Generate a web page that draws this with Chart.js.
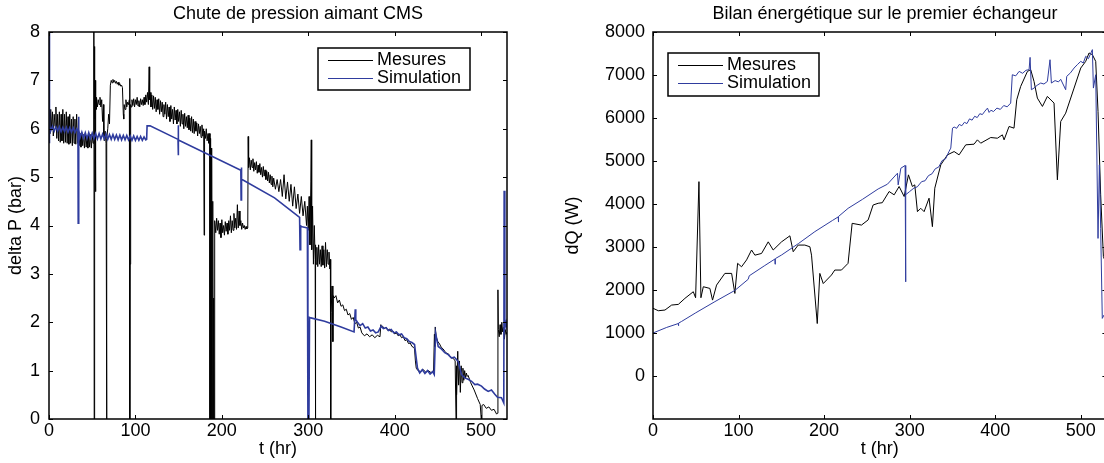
<!DOCTYPE html>
<html>
<head>
<meta charset="utf-8">
<title>Chute de pression / Bilan énergétique</title>
<script src="https://cdn.jsdelivr.net/npm/chart.js@4.4.0/dist/chart.umd.min.js"></script>
<style>
    html, body { margin: 0; padding: 0; background: #fff; overflow: hidden; }
    body { width: 1104px; height: 463px; position: relative; }
    canvas { position: absolute; top: 0; }
    #pressureChart { left: 0; }
    #energyChart { left: 560px; }
</style>
</head>
<body>
<canvas id="pressureChart" width="540" height="463"></canvas>
<canvas id="energyChart" width="560" height="463"></canvas>
<script>
// ticks
const timeTicks = [0, 100, 200, 300, 400, 500];
const pressureTicks = [0, 1, 2, 3, 4, 5, 6, 7, 8];
const powerTicks = [0, 1000, 2000, 3000, 4000, 5000, 6000, 7000, 8000];

const seriesLabels = ['Mesures', 'Simulation'];

// Chute de pression aimant CMS - mesures (t en hr, delta P en bar)
const pMesTime = [
    0, 1, 2, 3, 4, 5, 6, 7, 8, 9, 10, 11, 12, 13, 14, 15, 16,
    17, 18, 19, 20, 21, 22, 23, 24, 25, 26, 27, 28, 29, 30, 31, 32, 33,
    34, 35, 36, 37, 38, 39, 40, 41, 42, 43, 44, 45, 46, 47, 48, 49, 50, 51,
    51.8, 52, 52.3, 52.6, 53, 53.4, 53.8, 54.2, 54.6, 55, 56, 57, 58, 59, 60, 61, 62, 63,
    63.5, 64, 65, 66, 66.5, 66.8, 67.1, 68, 69, 70, 71, 72,
    73, 74, 75, 76, 77, 78, 79, 80, 81, 82, 83, 84, 85, 86, 86.5, 87, 88, 89, 90, 91, 92, 93,
    93.4, 93.6, 93.8, 94.5, 95, 96, 97, 98, 99, 100, 101, 102, 103, 104, 105, 106, 107, 108, 109, 110, 111, 112,
    113, 114, 115, 115.9, 116.5, 117, 118, 119, 120, 121, 122, 123, 124, 125, 126, 127, 128, 129, 130, 131, 132, 133, 134, 135,
    136, 137, 138, 139, 140, 141, 142, 143, 144, 145, 146, 147, 148, 149, 150, 151, 152, 153, 154, 155, 156, 157, 158, 159, 160,
    161, 162, 163, 164, 165, 166, 167, 168, 169, 170, 171, 172, 173, 174, 175, 176, 177, 178, 179, 179.5, 180, 181, 182, 183, 184, 185,
    186, 186.3, 186.6, 187, 187.5, 188, 188.5, 189, 189.5, 190, 190.5, 191, 191.5, 192, 193, 194, 195,
    196, 197, 198, 199, 200, 201, 202, 203, 204, 205, 206, 207, 208, 209, 210, 211, 212, 213, 214, 215, 216, 217, 218, 219, 220, 221, 222, 223, 224, 225, 226, 227, 228, 229, 230,
    230.5, 231, 232, 233, 234, 235, 236, 237, 238, 239, 240, 241, 242, 243, 244, 245, 246, 247, 248, 249, 250,
    251, 252, 253, 254, 255, 256, 257, 258, 259, 260, 262, 264, 266, 268, 270, 272, 274, 276, 278, 280,
    282, 284, 286, 288, 290, 292, 294, 296, 298, 299, 300, 301, 302, 303, 303.5, 304, 305, 306, 307, 308, 308.3,
    308.6, 309, 310, 311, 312, 313, 314, 315, 316, 317, 318, 319, 320, 321, 322, 323, 324, 325, 325.6, 326,
    326.5, 327.5, 328.5, 329, 330, 332, 334, 336, 338, 340, 342, 344, 346, 348, 350, 352, 354, 356, 358, 360,
    362, 365, 368, 371, 374, 377, 380, 383, 384, 384.5,
    386, 388, 390, 392, 394, 396, 398, 400, 402, 404, 406, 408, 410, 412, 414, 416, 418, 420, 422, 423, 424,
    425, 427, 430, 433, 436, 439, 442, 445, 446, 446.5, 447, 448, 450, 452, 454, 456, 458, 460, 462, 464, 466, 468, 470,
    471, 471.3, 472, 473, 474, 475, 476, 477, 478, 479, 480, 481, 482, 483, 484, 485,
    488, 492, 496, 499, 500.2, 501, 503, 506, 509, 512, 515, 518, 519,
    519.5, 520, 521, 522, 523, 524, 525, 526, 527, 528, 529, 530
];
const pMesValues = [
    6.3, 5.9, 6.4, 6.0, 6.35, 5.85, 6.3, 6.05, 6.45, 5.8, 6.3, 5.75, 6.35, 5.72, 6.3, 5.75, 6.4,
    5.7, 6.3, 5.72, 6.35, 5.7, 6.25, 5.68, 6.3, 5.7, 6.2, 5.65, 6.25, 5.7, 6.2, 5.68, 6.3, 5.7,
    5.95, 5.65, 5.9, 5.62, 5.92, 5.65, 5.88, 5.6, 5.9, 5.62, 5.85, 5.6, 5.9, 5.62, 5.88, 5.6, 5.85, 5.7,
    6.0, 9, 0, 7.7, 6.2, 7.0, 4.7, 6.6, 6.4, 6.65, 6.45, 6.6, 6.5, 6.65, 6.45, 6.6, 6.15, 6.5,
    5.85, 5.75, 5.95, 5.7, 5.8, 0, 5.8, 6.0, 6.3, 6.1, 6.9, 7.0,
    6.95, 7.02, 6.96, 7.0, 6.94, 6.98, 6.92, 6.96, 6.9, 6.93, 6.88, 6.9, 6.85, 6.3, 6.2, 6.5, 6.4, 6.6, 6.45, 6.55, 6.5, 6.6,
    7.04, 0, 3.2, 6.5, 6.45, 6.6, 6.48, 6.62, 6.45, 6.6, 6.5, 6.65, 6.47, 6.58, 6.45, 6.62, 6.5, 6.6, 6.48, 6.65, 6.5, 6.7,
    6.55, 6.75, 6.5, 7.28, 6.6, 6.75, 6.45, 6.7, 6.4, 6.68, 6.42, 6.65, 6.35, 6.6, 6.4, 6.62, 6.3, 6.58, 6.35, 6.55, 6.25, 6.5, 6.3, 6.55,
    6.2, 6.5, 6.25, 6.45, 6.15, 6.48, 6.2, 6.4, 6.1, 6.45, 6.18, 6.38, 6.1, 6.4, 6.15, 6.35, 6.05, 6.38, 6.1, 6.3, 6.0, 6.32, 6.05, 6.25, 6.02,
    6.28, 5.98, 6.22, 5.95, 6.25, 5.92, 6.2, 5.9, 6.15, 5.95, 6.12, 5.85, 6.1, 5.9, 6.05, 5.82, 6.08, 5.85, 6.0, 3.8, 5.95, 5.8, 6.0, 5.75, 5.9, 5.7,
    5.9, 0, 5.8, 0, 5.6, 0, 5.4, 0, 4.5, 0, 2.5, 0, 3.9, 4.1, 3.85, 4.15, 3.9,
    4.1, 3.82, 4.05, 3.75, 4.12, 3.85, 4.0, 3.8, 4.08, 3.88, 4.05, 3.82, 4.1, 3.9, 4.2, 3.85, 4.1, 3.9, 4.25, 3.95, 4.15, 3.92, 4.43, 3.95, 4.3, 4.0, 4.1, 3.92, 4.05, 3.95, 4.0, 3.92, 3.98, 3.93, 3.95,
    5.84, 5.2, 5.4, 5.15, 5.35, 5.2, 5.38, 5.12, 5.3, 5.15, 5.32, 5.08, 5.25, 5.1, 5.28, 5.05, 5.2, 5.0, 5.22, 5.02, 5.15,
    4.95, 5.12, 4.92, 5.1, 4.88, 5.05, 4.85, 5.02, 4.8, 4.98, 4.75, 4.95, 4.7, 4.95, 4.6, 5.05, 4.55, 4.9, 4.5, 4.85,
    4.4, 4.8, 4.35, 4.65, 4.25, 4.6, 4.2, 4.5, 4.0, 4.4, 3.9, 4.6, 3.6, 4.9, 5.77, 3.5, 4.4, 3.2, 4.0, 3.3, 0,
    3.6, 3.2, 3.55, 3.15, 3.6, 3.2, 3.5, 3.15, 3.58, 3.18, 3.5, 3.12, 3.65, 3.15, 3.5, 3.2, 3.45, 3.1, 3.3, 0,
    2.2, 2.75, 1.6, 2.55, 2.5, 2.55, 2.4, 2.46, 2.33, 2.36, 2.24, 2.27, 2.15, 2.18, 2.06, 2.1, 1.97, 2.0, 1.88, 1.9,
    1.78, 1.72, 1.76, 1.7, 1.74, 1.68, 1.73, 1.7, 1.95, 1.9,
    1.92, 1.86, 1.9, 1.83, 1.86, 1.8, 1.82, 1.76, 1.78, 1.72, 1.74, 1.68, 1.7, 1.62, 1.64, 1.56, 1.57, 1.5, 1.48, 1.45, 1.2,
    1.05, 1.0, 0.98, 1.02, 0.97, 1.0, 0.96, 0.98, 1.75, 1.5, 1.9, 1.7, 1.6, 1.55, 1.48, 1.45, 1.4, 1.36, 1.35, 1.3, 1.27, 1.25, 1.2,
    0, 1.1, 0.5, 1.4, 0.7, 1.2, 0.55, 1.1, 0.75, 1.05, 0.8, 1.0, 0.85, 0.95, 0.88, 0.9,
    0.75, 0.6, 0.42, 0.3, 0, 0.28, 0.3, 0.22, 0.25, 0.18, 0.2, 0.1, 0.12,
    2.67, 1.85, 1.7, 1.95, 1.75, 2.0, 1.8, 1.9, 1.65, 1.85, 1.75, 1.8
];

// Chute de pression aimant CMS - simulation
const pSimTime = [
    0, 0.3, 0.8, 2, 4, 6, 8, 10, 12, 14, 16, 18, 20, 22, 24, 26, 28, 30, 32, 33.5, 33.8, 34.2, 34.6, 35,
    36, 38, 40, 42, 44, 46, 48, 50, 52, 54, 56, 58, 60, 62, 64, 66, 68, 70, 72, 74,
    76, 78, 80, 82, 84, 86, 88, 90, 92, 94, 96, 98, 100, 102, 104, 106, 108, 110, 112, 113,
    113.5, 117, 149.3, 149.5, 149.7, 149.9, 222, 222.3, 222.6, 223, 224.5,
    261, 290, 290.5, 291, 291.5, 299, 299.6, 300.8, 301.5, 303, 318.9, 338, 353, 354.4, 355,
    357, 360, 363, 366, 369, 372, 375, 378, 381, 384.4, 387, 390, 393, 396, 399, 402, 405, 408, 411, 414, 417, 420, 423,
    426.4, 429, 432, 435, 438, 441, 444, 445.8, 447.3, 450.4, 454, 458, 462, 465.8, 469, 473.5, 477.4, 481.2, 485, 489,
    492.8, 496, 500.5, 504, 508.2, 512, 515.9, 519, 523.6, 526.3, 526.7, 527.5, 529, 531
];
const pSimValues = [
    8.5, 5.7, 6.05, 5.96, 6.05, 5.95, 6.04, 5.95, 6.04, 5.94, 6.03, 5.94, 6.03, 5.93, 6.02, 5.93, 6.02, 5.92, 6.0, 5.95, 4.05, 6.25, 5.85, 5.92,
    5.82, 5.93, 5.81, 5.92, 5.8, 5.92, 5.8, 5.91, 5.8, 5.9, 5.79, 5.9, 5.79, 5.89, 5.79, 5.89, 5.78, 5.88, 5.78, 5.88,
    5.78, 5.87, 5.77, 5.87, 5.77, 5.86, 5.77, 5.86, 5.77, 5.85, 5.76, 5.85, 5.76, 5.84, 5.76, 5.84, 5.76, 5.83, 5.77, 5.78,
    6.06, 6.06, 5.78, 6.07, 5.45, 5.77, 5.14, 4.53, 5.2, 4.95, 4.94,
    4.57, 4.17, 3.5, 4.01, 3.98, 3.95, 0, 0, 2.1, 2.09, 2.02, 1.9, 1.8, 2.27, 2.05,
    2.0, 1.93, 1.97, 1.88, 1.9, 1.82, 1.84, 1.78, 1.8, 1.92, 1.87, 1.89, 1.83, 1.85, 1.78, 1.8, 1.74, 1.76, 1.68, 1.66, 1.6, 1.58, 1.54,
    1.05, 0.95, 1.02, 0.94, 1.0, 0.93, 0.98, 0.92, 1.78, 1.5, 1.45, 1.37, 1.33, 1.26, 1.28, 1.19, 0.92, 0.85, 0.82, 0.78,
    0.71, 0.72, 0.68, 0.62, 0.57, 0.6, 0.51, 0.45, 0.44, 0.33, 4.72, 1.88, 2.0, 1.81
];

// Bilan énergétique sur le premier échangeur - mesures (dQ en W)
const qMesTime = [
    0, 6.2, 14, 21.8, 29.6, 37.3, 47.1, 49.8, 53.7, 56, 58.8, 66.5, 69.6, 74.3, 84, 91.9, 95.7, 98.9, 103.5, 109.4, 115.2, 119.1,
    126.9, 134.7, 140.5, 150.3, 160, 163.9, 169.7, 177.5, 183.4, 185.3, 192, 195, 199, 208.6, 212.5, 220.3, 228, 232.8, 243.7, 251.5, 257.3, 263.2,
    268, 276, 281.9, 287.7, 293.6, 298.6, 303.2, 306, 309.1, 313, 316.9, 322.7, 326.6, 329.4, 336.4, 344.2, 352, 357.8, 365.6, 375.3, 379.2, 383.1, 394.8, 402.6, 408.4,
    410.4, 416.2, 422, 425.2, 429.8, 437.7, 441.5, 445.4, 449.3, 455.2, 461, 468.8, 472.7, 476.6, 482.4, 492.2, 500, 505.8, 509.7, 513.6, 517.5, 520.2, 523.3, 526.5, 530
];
const qMesValues = [
    1575, 1518, 1534, 1650, 1665, 1805, 1960, 1820, 4520, 1820, 2076, 2037, 1765, 2114, 2386, 2386, 1920, 2620, 2540, 2700, 2930, 2810,
    2850, 3120, 2930, 3120, 3260, 2890, 3045, 3045, 3005, 2810, 1220, 2386, 2150, 2348, 2464, 2464, 2620, 3550, 3510, 3630, 3977, 4017,
    4030, 4290, 4213, 4407, 4174, 4678, 4407, 4445, 3822, 3900, 3822, 4135, 3473, 4368, 4910, 5143, 5220, 5143, 5376, 5391, 5492, 5414, 5546, 5530, 5608,
    5492, 5803, 5764, 6424, 6735, 7084, 7123, 6851, 6463, 6269, 6502, 6347, 4562, 5919, 6113, 6696, 7162, 7317, 7512, 7473, 7317, 6153, 4213, 2776, 2600
];

// Bilan énergétique - simulation
const qSimTime = [
    0, 16, 29.6, 29.8, 30, 33.5, 50, 72.4, 95.7, 111.3, 112.5, 130, 142.5, 142.7, 143, 150.3, 170, 189.2, 210, 216.5, 216.7, 217, 228.1, 245, 263.2,
    274, 285.8, 286.6, 289.7, 294.7, 295.2, 295.6, 296.3, 300, 305, 309, 314, 318, 322, 326, 330, 334, 338, 342, 346, 348.1,
    350.1, 352, 355, 358, 361, 364, 367, 370, 373, 376, 379, 382, 385, 388, 391, 392.9, 395, 398, 402, 406, 410, 414, 418.1,
    420, 424, 428, 432, 436, 439.6, 440.8, 442.3, 445.4, 449, 453.2, 457, 461, 464.1, 465.7, 470, 474, 476.6,
    482.4, 483.6, 488, 492.2, 496, 500, 503, 505.8, 509, 513.6, 514.8, 517.5, 520.2, 521.8, 523.3, 525.2, 527.2, 530
];
const qSimValues = [
    1000, 1130, 1220, 1170, 1230, 1270, 1470, 1730, 1990, 2250, 2330, 2560, 2720, 2600, 2730, 2814, 3080, 3357, 3620, 3700, 3580, 3710, 3900, 4110, 4350,
    4460, 4716, 4445, 4832, 4895, 2190, 4213, 4230, 4290, 4370, 4400, 4520, 4540, 4660, 4700, 4820, 4860, 5010, 5050, 5220, 5300,
    5764, 5790, 5760, 5850, 5820, 5900, 5870, 5980, 5950, 6040, 6010, 6100, 6080, 6160, 6230, 6130, 6180, 6150, 6230, 6200, 6290, 6260, 6346,
    7006, 6980, 7084, 7040, 7110, 7123, 7410, 6658, 6696, 6760, 6813, 6790, 6851, 7355, 6813, 6870, 6840, 6900,
    6658, 6968, 7050, 7162, 7240, 7317, 7280, 7434, 7380, 7590, 6696, 7006, 3200, 4910, 3433, 1340, 1418, 1400
];

const FONT = "'Liberation Sans', Arial, Helvetica, sans-serif";
const BLUE = '#2f3c9e';

Chart.defaults.font.family = FONT;
Chart.defaults.font.size = 18;
Chart.defaults.color = '#000';

function toPoints(times, values) {
    if (times.length !== values.length) {
        console.error('length mismatch', times.length, values.length);
    }
    return times.map((t, i) => ({ x: t, y: values[i] }));
}

// MATLAB style box, inward ticks, title and framed legend
const matlabAxes = {
    id: 'matlabAxes',
    afterDraw(chart, args, opts) {
        const ctx = chart.ctx;
        const { left, right, top, bottom } = chart.chartArea;
        const xs = chart.scales.x;
        const ys = chart.scales.y;

        ctx.save();
        ctx.strokeStyle = '#000';
        ctx.lineWidth = 1.5;
        ctx.strokeRect(left, top, right - left, bottom - top);

        ctx.lineWidth = 1;
        ctx.beginPath();
        opts.xTicks.forEach(v => {
            const px = Math.round(xs.getPixelForValue(v)) + 0.5;
            ctx.moveTo(px, bottom); ctx.lineTo(px, bottom - 4);
            ctx.moveTo(px, top); ctx.lineTo(px, top + 4);
        });
        opts.yTicks.forEach(v => {
            const py = Math.round(ys.getPixelForValue(v)) + 0.5;
            ctx.moveTo(left, py); ctx.lineTo(left + 4, py);
            ctx.moveTo(right, py); ctx.lineTo(right - 4, py);
        });
        ctx.stroke();

        // title
        ctx.fillStyle = '#000';
        ctx.font = '18px ' + FONT;
        ctx.textAlign = 'center';
        ctx.textBaseline = 'middle';
        ctx.fillText(opts.title, opts.titleX, opts.titleY);

        // legend
        const lg = opts.legend;
        ctx.fillStyle = '#fff';
        ctx.fillRect(lg.x, lg.y, lg.w, lg.h);
        ctx.lineWidth = 1.5;
        ctx.strokeStyle = '#000';
        ctx.strokeRect(lg.x, lg.y, lg.w, lg.h);
        ctx.textAlign = 'left';
        chart.data.datasets.forEach((ds, i) => {
            const y = lg.y + lg.rows[i];
            ctx.strokeStyle = ds.borderColor;
            ctx.lineWidth = 1;
            ctx.beginPath();
            ctx.moveTo(lg.x + 10, y + 0.5);
            ctx.lineTo(lg.x + 55, y + 0.5);
            ctx.stroke();
            ctx.fillStyle = '#000';
            ctx.fillText(ds.label, lg.x + 59, y);
        });
        ctx.restore();
    }
};

function makeChart(canvasId, cfg) {
    const ctx = document.getElementById(canvasId).getContext('2d');
    return new Chart(ctx, {
        type: 'line',
        data: {
            datasets: [{
                label: seriesLabels[0],
                data: toPoints(cfg.mesTime, cfg.mesValues),
                borderColor: '#000',
                borderWidth: 1,
                order: 1
            }, {
                label: seriesLabels[1],
                data: toPoints(cfg.simTime, cfg.simValues),
                borderColor: BLUE,
                borderWidth: cfg.simWidth,
                order: 0
            }]
        },
        options: {
            responsive: false,
            animation: false,
            parsing: false,
            elements: { point: { radius: 0 }, line: { tension: 0 } },
            layout: { padding: { top: 32, right: cfg.padRight, bottom: 0, left: 0 } },
            plugins: {
                legend: { display: false },
                tooltip: { enabled: false },
                matlabAxes: {
                    title: cfg.title,
                    titleX: cfg.titleX,
                    titleY: 14.5,
                    xTicks: timeTicks,
                    yTicks: cfg.yTicks,
                    legend: cfg.legend
                }
            },
            scales: {
                x: {
                    type: 'linear',
                    min: 0,
                    max: 530,
                    grid: { display: false, drawTicks: false },
                    border: { display: false },
                    ticks: { padding: 1, autoSkip: false, maxRotation: 0, callback: v => String(v) },
                    title: { display: true, text: 't (hr)', padding: { top: 0, bottom: 3 } },
                    afterBuildTicks: s => { s.ticks = timeTicks.map(v => ({ value: v })); },
                    afterFit: s => { s.height = 44; }
                },
                y: {
                    type: 'linear',
                    min: cfg.yMin,
                    max: cfg.yMax,
                    grid: { display: false, drawTicks: false },
                    border: { display: false },
                    ticks: { padding: cfg.yPad, autoSkip: false, callback: v => String(v) },
                    title: { display: true, text: cfg.yLabel, padding: { top: cfg.yTitlePad, bottom: 0 } },
                    afterBuildTicks: s => { s.ticks = cfg.yTicks.map(v => ({ value: v })); },
                    afterFit: s => { s.width = cfg.yWidth; }
                }
            }
        },
        plugins: [matlabAxes]
    });
}

makeChart('pressureChart', {
    title: 'Chute de pression aimant CMS',
    titleX: 298,
    mesTime: pMesTime, mesValues: pMesValues,
    simTime: pSimTime, simValues: pSimValues,
    simWidth: 1.6,
    yMin: 0, yMax: 8, yTicks: pressureTicks,
    yLabel: 'delta P (bar)',
    yWidth: 49, yPad: 9, yTitlePad: 5,
    padRight: 33,
    legend: { x: 318, y: 48, w: 152, h: 42, rows: [12, 30] }
});

makeChart('energyChart', {
    title: 'Bilan énergétique sur le premier échangeur',
    titleX: 325,
    mesTime: qMesTime, mesValues: qMesValues,
    simTime: qSimTime, simValues: qSimValues,
    simWidth: 1,
    yMin: -1000, yMax: 8000, yTicks: powerTicks,
    yLabel: 'dQ (W)',
    yWidth: 93, yPad: 8, yTitlePad: 2,
    padRight: 13.6,
    legend: { x: 108, y: 53, w: 151, h: 43, rows: [12, 30] }
});
</script>
</body>
</html>
